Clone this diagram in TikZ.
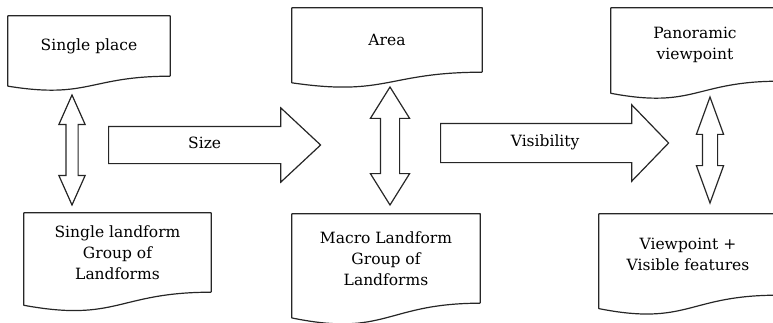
\documentclass[tikz,border=0pt]{standalone}
\usepackage{fontspec}
\setmainfont{DejaVu Serif}
\usetikzlibrary{shapes.arrows,calc,positioning}

% wavy "document" outline around the text region of a node
\newcommand{\docoutline}[1]{%
  \draw[docline] (#1.south east) -- (#1.north east) -- (#1.north west)
    -- ($(#1.south west)!-0.1646!(#1.north west)$)
    .. controls ($(#1.south)!-0.3815!(#1.north)$) and (#1.south) .. (#1.south east);
}

\begin{document}
\begin{tikzpicture}[
	x=1pt, y=1pt,
	docline/.style={
		line width=1.2pt,
		draw=black!85,
		line join=round
	},
	doc/.style={
		rectangle,
		inner sep=0pt,
		align=center,
		font=\fontsize{15.5}{21}\selectfont
	},
	fatarrow/.style={
		single arrow,
		draw=black!85,
		line width=1.2pt,
		inner xsep=0pt,
		inner ysep=12pt,
		text height=9pt,
		text depth=3pt,
		single arrow head extend=18.5pt,
		font=\fontsize{15.5}{21}\selectfont
	},
	twinarrow/.style={
		double arrow,
		draw=black!85,
		line width=1.2pt,
		rotate=90,
		inner xsep=0pt
	}
	]
	
	\useasboundingbox (0,0) rectangle (773,-322);
	\clip (0,0) rectangle (773,-322);
	
	% Documents, top row
	\node[doc, minimum width=162pt, minimum height=60pt] (place) at (89,-46) {Single place};
	\node[doc, minimum width=190pt, minimum height=64pt] (area) at (387,-40) {Area};
	\node[doc, minimum width=168pt, minimum height=73pt] (pano) at (695,-44.5) {Panoramic\\viewpoint};
	
	% Documents, bottom row
	\node[doc, minimum width=187pt, minimum height=79pt] (landform) at (117.5,-252.5) {Single landform\\Group of\\Landforms};
	\node[doc, minimum width=188pt, minimum height=89pt] (macro) at (386,-258.5) {Macro Landform\\Group of\\Landforms};
	\node[doc, minimum width=178pt, minimum height=81pt] (view) at (688,-254.5) {Viewpoint +\\Visible features};
	
	\docoutline{place}
	\docoutline{area}
	\docoutline{pano}
	\docoutline{landform}
	\docoutline{macro}
	\docoutline{view}
	
	% Up-down arrows
	\node[twinarrow, inner ysep=5.5pt, double arrow head extend=7pt, double arrow tip angle=48,
		minimum width=25pt, minimum height=110pt] (pl) at (72,-150) {};
	\node[twinarrow, inner ysep=9pt, double arrow head extend=10pt, double arrow tip angle=64,
		minimum width=38pt, minimum height=118pt] (am) at (390,-146) {};
	\node[twinarrow, inner ysep=7pt, double arrow head extend=6pt, double arrow tip angle=40,
		minimum width=26pt, minimum height=106pt] (pv) at (710,-150) {};
	
	% Size and Visibility arrows
	\node[fatarrow, single arrow tip angle=86,
		minimum width=73pt, minimum height=212pt, anchor=tail] (size) at (108,-145) {Size};
	\node[fatarrow, inner ysep=13pt, single arrow tip angle=92,
		minimum width=75pt, minimum height=228pt, anchor=tail] (vis) at (440,-143) {Visibility};
	
\end{tikzpicture}
\end{document}
